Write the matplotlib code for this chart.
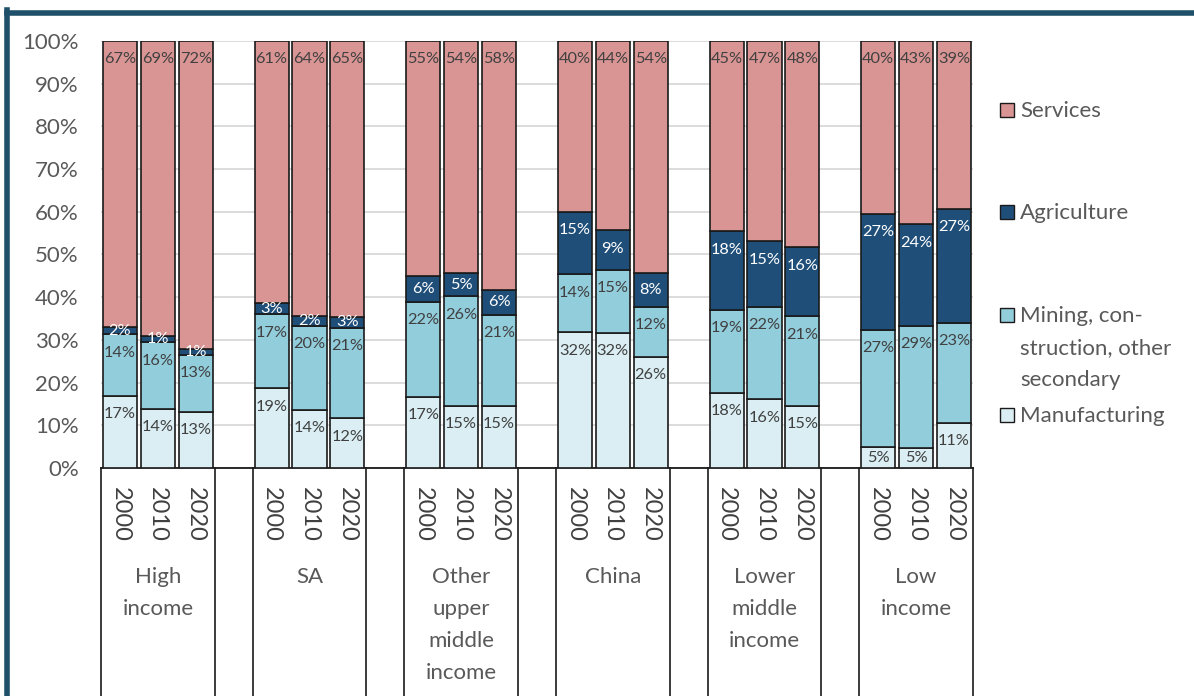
import matplotlib
matplotlib.use('Agg')

import numpy as np
import matplotlib.pyplot as plt
from matplotlib.patches import Rectangle
from matplotlib.lines import Line2D


# DATA (share of employment, %)
GROUPS = ["High\nincome", "SA", "Other\nupper\nmiddle\nincome", "China",
          "Lower\nmiddle\nincome", "Low\nincome"]
YEARS = ["2000", "2010", "2020"]

MANUFACTURING = [16.9, 13.8, 13.1,  18.7, 13.6, 11.6,  16.6, 14.6, 14.6,
                 31.8, 31.6, 26.1,  17.6, 16.1, 14.6,  4.9, 4.6, 10.6]
MINING_OTHER  = [14.4, 15.6, 13.4,  17.3, 19.7, 21.2,  22.3, 25.6, 21.2,
                 13.6, 14.8, 11.7,  19.4, 21.6, 20.9,  27.4, 28.7, 23.4]
AGRICULTURE   = [1.8, 1.4, 1.4,     2.7, 2.3, 2.6,     6.1, 5.4, 6.0,
                 14.6, 9.3, 7.8,    18.4, 15.4, 16.2,  27.3, 23.8, 26.7]
SERVICES      = [66.9, 69.2, 72.1,  61.3, 64.4, 64.6,  55.0, 54.4, 58.2,
                 40.0, 44.3, 54.4,  44.6, 46.9, 48.3,  40.4, 42.9, 39.3]

SERIES = ["Manufacturing", "Mining, con-\nstruction, other\nsecondary",
          "Agriculture", "Services"]
COLOURS = ["#DAEEF3", "#92CDDC", "#1F4E79", "#D99594"]
LABEL_COLOURS = ["#404040", "#404040", "white", "#404040"]

GREY_TEXT = "#595959"
FRAME = "#1F5069"

plt.rcParams['font.family'] = ['Lato', 'DejaVu Sans']

fig = plt.figure(figsize=(11.94, 6.96), dpi=100)
ax = fig.add_axes([101 / 1194, 1 - 468 / 696, 872 / 1194, 427 / 696])

# bar slots: 3 years per group, one empty slot between groups
x_pos = np.array([4 * g + k for g in range(len(GROUPS)) for k in range(3)])

values = [MANUFACTURING, MINING_OTHER, AGRICULTURE, SERVICES]
bottom = np.zeros(len(x_pos))
for vals, colour, lc in zip(values, COLOURS, LABEL_COLOURS):
    vals = np.array(vals)
    ax.bar(x_pos, vals, bottom=bottom, width=0.9, color=colour,
           edgecolor="#1a1a1a", linewidth=1.2, zorder=3)
    for x, b, v in zip(x_pos, bottom, vals):
        top = b + v
        y = max(top - 4.3, b + v / 2)
        ax.text(x, y, f"{v:.0f}%", ha="center", va="center",
                fontsize=11.8, color=lc, zorder=4)
    bottom += vals

ax.set_xlim(-0.5, 22.5)
ax.set_ylim(0, 100)
ax.set_yticks(np.arange(0, 101, 10))
ax.set_yticklabels([f"{t}%" for t in range(0, 101, 10)])
ax.tick_params(axis="y", length=0, pad=16, labelsize=16, labelcolor=GREY_TEXT)
ax.set_xticks([])
ax.grid(axis="y", color="#D9D9D9", linewidth=1.3, zorder=0)
for side in ["left", "right", "top"]:
    ax.spines[side].set_visible(False)
ax.spines["bottom"].set_color("#1a1a1a")
ax.spines["bottom"].set_linewidth(1.3)

# category axis: year labels, group labels and separators below the bars
trans = ax.get_xaxis_transform()
for x, yr in zip(x_pos, YEARS * len(GROUPS)):
    ax.text(x, -0.045, yr, transform=trans, rotation=-90, ha="center",
            va="top", fontsize=17, color="#404040", clip_on=False)

for g, name in enumerate(GROUPS):
    ax.text(4 * g + 1, -0.232, name, transform=trans, ha="center", va="top",
            fontsize=16, color=GREY_TEXT, linespacing=1.75, clip_on=False)
    for edge in (4 * g - 0.5, 4 * g + 2.5):
        ax.add_line(Line2D([edge, edge], [0, -0.54], transform=trans,
                           color="#1a1a1a", linewidth=1.2, clip_on=False))

# legend drawn by hand so the entries sit where they belong
legend_rows = [(SERIES[3], COLOURS[3], 110), (SERIES[2], COLOURS[2], 212),
               (SERIES[1], COLOURS[1], 315), (SERIES[0], COLOURS[0], 415)]
for label, colour, ypix in legend_rows:
    yf = 1 - ypix / 696
    fig.patches.append(Rectangle((1000 / 1194, yf - 7 / 696), 14 / 1194, 14 / 696,
                                 transform=fig.transFigure, facecolor=colour,
                                 edgecolor="#1a1a1a", linewidth=1.0))
    fig.text(1020 / 1194, yf + 9 / 696, label, ha="left", va="top",
             fontsize=16, color=GREY_TEXT, linespacing=1.75)

# dark frame along the top and left edges
fig.add_artist(Line2D([7 / 1194, 1.0], [1 - 12.5 / 696, 1 - 12.5 / 696],
                      transform=fig.transFigure, color=FRAME, linewidth=4))
fig.add_artist(Line2D([7 / 1194, 7 / 1194], [0, 1 - 10 / 696],
                      transform=fig.transFigure, color=FRAME, linewidth=4))

fig.savefig("out.png", dpi=100)
plt.close(fig)
